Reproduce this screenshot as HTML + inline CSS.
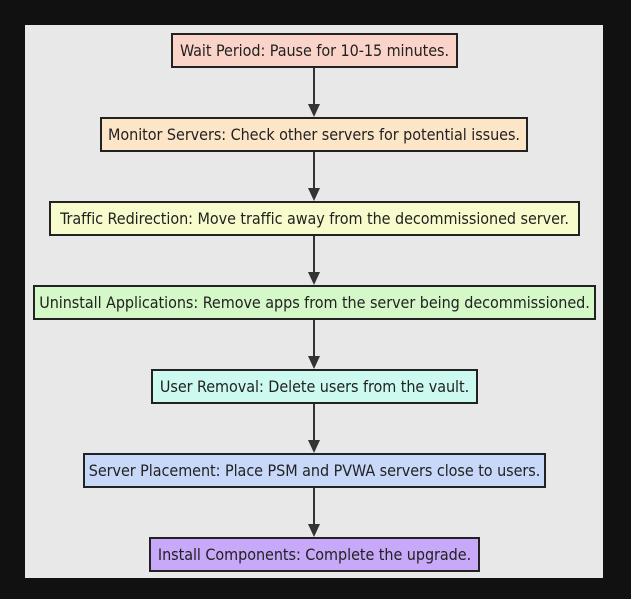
<!DOCTYPE html>
<html><head><style>
body{margin:0;background:#111;width:631px;height:599px;overflow:hidden;position:relative;font-family:"DejaVu Sans Condensed","DejaVu Sans","Liberation Sans",sans-serif;}
.p{position:absolute;left:25px;top:25px;width:578px;height:553px;background:#e8e8e8;}
.b{position:absolute;height:31px;border:2px solid #222;box-sizing:content-box;display:flex;align-items:center;justify-content:center;font-size:16px;letter-spacing:-0.05px;color:#222;white-space:nowrap;}
svg{position:absolute;left:0;top:0;}
</style></head><body>
<div class="p"></div>
<svg width="631" height="599">
<g stroke="#333" stroke-width="2">
<line x1="314" y1="68" x2="314" y2="106"/><line x1="314" y1="152" x2="314" y2="190"/>
<line x1="314" y1="236" x2="314" y2="274"/><line x1="314" y1="320" x2="314" y2="358"/>
<line x1="314" y1="404" x2="314" y2="442"/><line x1="314" y1="488" x2="314" y2="526"/>
</g>
<g fill="#333">
<polygon points="308,104 320,104 314,117"/><polygon points="308,188 320,188 314,201"/>
<polygon points="308,272 320,272 314,285"/><polygon points="308,356 320,356 314,369"/>
<polygon points="308,440 320,440 314,453"/><polygon points="308,524 320,524 314,537"/>
</g>
</svg>
<div class="b" style="left:171px;top:33px;width:283px;background:#fad4c8">Wait Period: Pause for 10-15 minutes.</div>
<div class="b" style="left:100px;top:117px;width:424px;background:#fde5c8">Monitor Servers: Check other servers for potential issues.</div>
<div class="b" style="left:49px;top:201px;width:527px;background:#f8fbcc">Traffic Redirection: Move traffic away from the decommissioned server.</div>
<div class="b" style="left:33px;top:285px;width:559px;background:#d4f8c8">Uninstall Applications: Remove apps from the server being decommissioned.</div>
<div class="b" style="left:151px;top:369px;width:323px;background:#ccfaf0">User Removal: Delete users from the vault.</div>
<div class="b" style="left:83px;top:453px;width:459px;background:#c8d8f8">Server Placement: Place PSM and PVWA servers close to users.</div>
<div class="b" style="left:149px;top:537px;width:327px;background:#c8a8f8">Install Components: Complete the upgrade.</div>
</body></html>
